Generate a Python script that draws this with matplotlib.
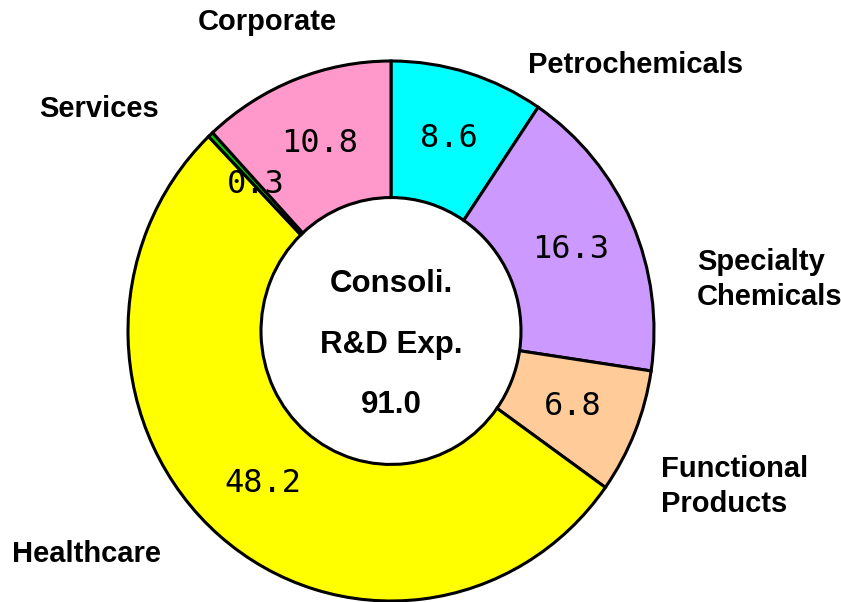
import matplotlib
matplotlib.use("Agg")
import matplotlib.pyplot as plt

# ---- data ----
segments = ["Petrochemicals", "Specialty Chemicals", "Functional Products",
            "Healthcare", "Services", "Corporate"]
values = [8.6, 16.3, 6.8, 48.2, 0.3, 10.8]
colors = ["#00FFFF", "#CC99FF", "#FFCC99", "#FFFF00", "#00CC00", "#FF99CC"]
total = 91.0
center_lines = ["Consoli.", "R&D Exp.", f"{total:.1f}"]

# ---- layout (pixels) ----
W, H = 841, 602
cx_px, cy_px = 391, 331
rx, ry = 263, 270
hole = 130

fig = plt.figure(figsize=(W / 100, H / 100), dpi=100)
ax = fig.add_axes([0, 0, 1, 1])
yscale = ry / rx

wedges, texts, autotexts = ax.pie(
    values, colors=colors, startangle=90, counterclock=False,
    radius=rx, center=(0, 0),
    wedgeprops=dict(width=rx - hole, edgecolor="black", linewidth=2.2),
    autopct=lambda p: f"{p * total / 100:.1f}",
    pctdistance=(rx + hole) / 2 / rx,
    textprops=dict(family="DejaVu Sans Mono", fontsize=23, color="black"),
)
ax.set_aspect("auto")
ax.set_xlim(-cx_px, W - cx_px)
ax.set_ylim((cy_px - H) / yscale, cy_px / yscale)
ax.axis("off")


def fx(x):
    return x / W


def fy(y):
    return 1 - y / H


label_font = dict(family=["Liberation Sans", "DejaVu Sans"], fontsize=21,
                  fontweight="bold", color="black", va="baseline")
center_font = dict(label_font, fontsize=22.5)

# outer category labels: (text, x, baseline_y, ha)
outer_labels = [
    ("Corporate", 267, 30, "center"),
    ("Services", 99, 117, "center"),
    ("Petrochemicals", 636, 73, "center"),
    ("Specialty", 697, 270, "left"),
    ("Chemicals", 697, 305, "left"),
    ("Functional", 661, 477, "left"),
    ("Products", 661, 512, "left"),
    ("Healthcare", 12, 562, "left"),
]
for t, x, y, ha in outer_labels:
    fig.text(fx(x), fy(y), t, ha=ha, **label_font)

for t, y in zip(center_lines, [292, 353, 413]):
    fig.text(fx(cx_px), fy(y), t, ha="center", **center_font)

fig.savefig("out.png", dpi=100, facecolor="white")
